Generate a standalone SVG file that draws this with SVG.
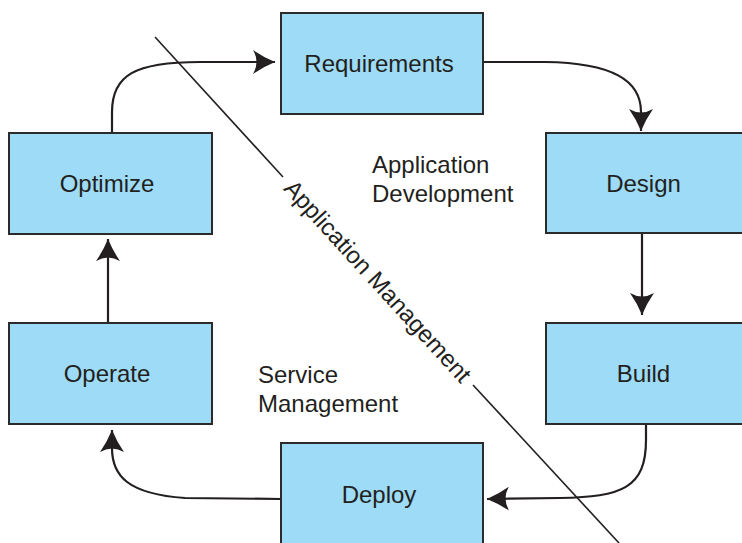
<svg xmlns="http://www.w3.org/2000/svg" width="742" height="543" viewBox="0 0 742 543">
<defs>
<style>
.box{fill:#9ddbf6;stroke:#2b2b2b;stroke-width:2}
.lbl{font-family:"Liberation Sans",Arial,Helvetica,sans-serif;font-size:24px;fill:#231f20}
.mid{text-anchor:middle}
.conn{fill:none;stroke:#231f20;stroke-width:2.2}
.diag{fill:none;stroke:#231f20;stroke-width:1.6}
</style>
<marker id="ah" markerUnits="userSpaceOnUse" viewBox="0 0 22 24" refX="22" refY="12" markerWidth="22" markerHeight="24" orient="auto">
<path d="M22,12 Q10,7 0,0 Q7,12 0,24 Q10,17 22,12 Z" fill="#231f20"/>
</marker>
</defs>
<rect width="742" height="543" fill="#ffffff"/>
<g id="connectors">
<path class="conn" d="M112,133 L112,112 C112,75 135,62 200,62 L275,62" marker-end="url(#ah)"/>
<path class="conn" d="M483,62 L545,62 C612,63 641,80 641,112 L641,131" marker-end="url(#ah)"/>
<path class="conn" d="M642,233 L642,315" marker-end="url(#ah)"/>
<path class="conn" d="M646,424 L646,440 C646,488 622,497 560,498 L487,499" marker-end="url(#ah)"/>
<path class="conn" d="M281,499 L185,498 C128,494 112,476 112,448 L112,430" marker-end="url(#ah)"/>
<path class="conn" d="M108,323 L108,239" marker-end="url(#ah)"/>
</g>
<g id="divider">
<path class="diag" d="M155,37 L283,177"/>
<path class="diag" d="M473,385 L619,543"/>
<text class="lbl mid" transform="rotate(47.6 378 281)" x="378" y="289.5">Application Management</text>
</g>
<g id="node-requirements">
<rect class="box" x="281" y="13" width="202" height="101"/>
<text class="lbl mid" x="379" y="72">Requirements</text>
</g>
<g id="node-design">
<rect class="box" x="546" y="133" width="202" height="100"/>
<text class="lbl mid" x="643.5" y="192">Design</text>
</g>
<g id="node-build">
<rect class="box" x="546" y="323" width="202" height="101"/>
<text class="lbl mid" x="643.5" y="382">Build</text>
</g>
<g id="node-deploy">
<rect class="box" x="281" y="443" width="202" height="101"/>
<text class="lbl mid" x="379" y="503">Deploy</text>
</g>
<g id="node-operate">
<rect class="box" x="9" y="323" width="203" height="101"/>
<text class="lbl mid" x="107" y="382">Operate</text>
</g>
<g id="node-optimize">
<rect class="box" x="9" y="133" width="203" height="101"/>
<text class="lbl mid" x="107" y="192">Optimize</text>
</g>
<g id="region-labels">
<text class="lbl" x="372" y="173">Application</text>
<text class="lbl" x="372" y="202">Development</text>
<text class="lbl" x="258" y="383">Service</text>
<text class="lbl" x="258" y="412">Management</text>
</g>
</svg>
